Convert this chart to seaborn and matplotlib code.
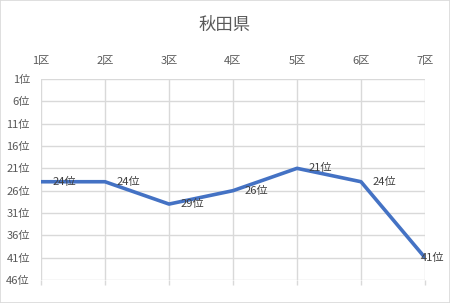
import matplotlib
matplotlib.use("Agg")
import matplotlib.pyplot as plt
import seaborn as sns
import pandas as pd
from matplotlib.patches import Rectangle

districts = ["1区", "2区", "3区", "4区", "5区", "6区", "7区"]
ranks = [24, 24, 29, 26, 21, 24, 41]
y_ticks = [1, 6, 11, 16, 21, 26, 31, 36, 41, 46]
title = "秋田県"

sns.set_theme(style="white")
plt.rcParams['font.family'] = ['Noto Sans CJK JP', 'DejaVu Sans']

df = pd.DataFrame({"pos": range(len(districts)), "rank": ranks})

W, H = 450, 303
fig = plt.figure(figsize=(W / 100, H / 100), dpi=100)
ax = fig.add_axes([41 / W, 1 - 280 / H, (425 - 41) / W, (280 - 79) / H])

sns.lineplot(data=df, x="pos", y="rank", ax=ax, color="#4472C4",
             linewidth=2.6, sort=False, zorder=3)

ax.set_xlim(0, len(districts) - 1)
ax.set_ylim(46, 1)
ax.set_xticks(range(len(districts)))
ax.set_xticklabels(districts)
ax.set_yticks(y_ticks)
ax.set_yticklabels([f"{v}位" for v in y_ticks])
ax.set_xlabel("")
ax.set_ylabel("")

ax.grid(True, color="#d9d9d9", linewidth=1.0)
ax.set_axisbelow(True)
for s in ax.spines.values():
    s.set_visible(False)

ax.tick_params(axis='x', top=False, labeltop=True, bottom=True,
               labelbottom=False, length=3.6, width=1.0, color="#d9d9d9",
               labelsize=8, labelcolor="#595959", pad=6)
ax.tick_params(axis='y', left=False, length=0, labelsize=8,
               labelcolor="#595959", pad=8)

n = len(ranks)
for i, r in enumerate(ranks):
    dx = -3 if i == n - 1 else 8.5
    ax.annotate(f"{r}位", (i, r), xytext=(dx, 0), textcoords="offset points",
                ha="left", va="center", fontsize=8, color="#404040",
                annotation_clip=False, zorder=4)

fig.text(0.5, 1 - 25 / H, title, ha="center", va="center", fontsize=12.5,
         color="#595959")

fig.patches.append(Rectangle((0, 0), 1, 1, transform=fig.transFigure,
                             fill=False, edgecolor="#d9d9d9", linewidth=1.2))

fig.savefig("out.png", dpi=100)
